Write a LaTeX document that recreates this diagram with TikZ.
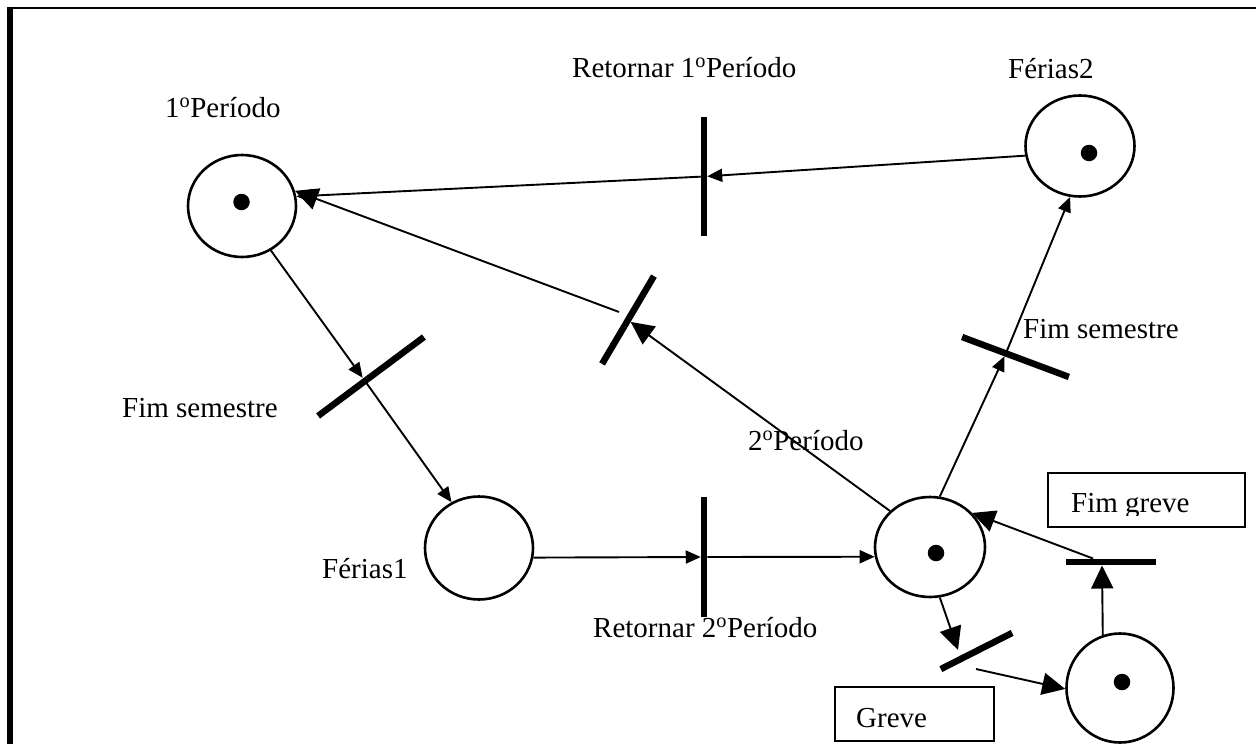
\documentclass[tikz,border=0pt]{standalone}
\usepackage{fontspec}
\setmainfont{Liberation Serif}
\usetikzlibrary{arrows.meta,shapes.geometric}
\begin{document}
\begin{tikzpicture}[x=1pt,y=-1pt,
  place/.style={ellipse,draw,line width=2.6pt,inner sep=0pt,minimum width=108pt,minimum height=102pt},
  token/.style={circle,fill,inner sep=0pt,minimum size=16.5pt},
  bar/.style={rectangle,fill,inner sep=0pt,outer sep=0pt,minimum height=6.5pt},
  arc/.style={line width=1.9pt,-{Triangle[length=15pt,width=13pt]}},
  bigarc/.style={line width=1.9pt,-{Triangle[length=23pt,width=22pt]}},
  lbl/.style={anchor=base west,inner sep=0pt,font=\fontsize{29}{34}\selectfont},
  tagbox/.style={draw,line width=2.4pt,inner sep=0pt}]
\useasboundingbox (0,0) rectangle (1256,744);

% frame
\draw[line width=2.8pt] (7,8) -- (1256,8);
\draw[line width=6pt] (10.3,6.6) -- (10.3,744);

% places
\node[place] (p1) at (242,206) {};
\node[place,minimum width=108pt,minimum height=103pt] (f1) at (479,548) {};
\node[place,minimum width=110pt,minimum height=100pt] (p2) at (930,547) {};
\node[place,minimum width=109pt,minimum height=101pt] (f2) at (1080,146) {};
\node[place,minimum width=107pt,minimum height=109pt] (g) at (1120,688) {};

% tokens
\node[token] (k1) at (241.5,202) {};
\node[token] (k2) at (936,553) {};
\node[token] (k3) at (1089,153) {};
\node[token] (k4) at (1122,682) {};

% transitions
\node[bar,minimum width=132pt,rotate=36.7] (tf1) at (371,376.5) {};
\node[bar,minimum width=102pt,rotate=59.4] (tb) at (628,320) {};
\node[bar,minimum width=119pt,rotate=90] (tr1) at (704,176.5) {};
\node[bar,minimum width=120pt,rotate=90] (tr2) at (704,557) {};
\node[bar,minimum width=114pt,rotate=-20.5] (tf2) at (1015.5,357) {};
\node[bar,minimum width=80pt,rotate=26.9] (tg) at (976.5,651) {};
\node[bar,minimum width=90pt] (tfg) at (1111,562) {};

% arc ends on the bars
\coordinate (tf1x) at (365,381);
\coordinate (tbout) at (619,312);
\coordinate (tf2x) at (1006,353);
\coordinate (tgin) at (958,650);
\coordinate (tgout) at (976,669);
\coordinate (tfgin) at (1102,565.5);
\coordinate (tfgout) at (1093,558.5);

% arcs
\draw[arc] (f2.190) -- (tr1);
\draw[arc] (tr1) -- (p1.10);
\draw[bigarc] (p2.138) -- (tb);
\draw[bigarc] (tbout) -- (p1.16);
\draw[arc,shorten >=4pt] (p1.-57) -- (tf1x);
\draw[arc] (tf1x) -- (f1.121);
\draw[arc] (f1.-10) -- (tr2);
\draw[arc] (tr2) -- (p2.190);
\draw[arc,shorten >=3.5pt] (p2.79) -- (tf2x);
\draw[arc] (tf2x) -- (f2.259);
\draw[bigarc] (p2.-79) -- (tgin);
\draw[bigarc] (tgout) -- (g.181);
\draw[bigarc] (g.108) -- (tfgin);
\draw[bigarc] (tfgout) -- (p2.39);

% labels
\node[lbl] (l1) at (165,117) {1\textsuperscript{o}Período};
\node[lbl] (lr1) at (572,77) {Retornar 1\textsuperscript{o}Período};
\node[lbl] (lf2) at (1008,78) {Férias2};
\node[lbl] (lfs1) at (122,417) {Fim semestre};
\node[lbl] (lfs2) at (1023,338) {Fim semestre};
\node[lbl] (lp2) at (748,450) {2\textsuperscript{o}Período};
\node[lbl] (lf1) at (322,578) {Férias1};
\node[lbl] (lr2) at (593,637) {Retornar 2\textsuperscript{o}Período};

% text boxes
\node[tagbox,minimum width=197pt,minimum height=54pt] (bfg) at (1146.5,500) {};
\node[tagbox,minimum width=159pt,minimum height=54pt] (bg) at (914.5,714) {};
\begin{scope}
  \clip (1050,475) rectangle (1243,515.5);
  \node[lbl] (tfgt) at (1071,512) {Fim greve};
\end{scope}
\node[lbl] (tgt) at (856,727) {Greve};
\end{tikzpicture}
\end{document}
